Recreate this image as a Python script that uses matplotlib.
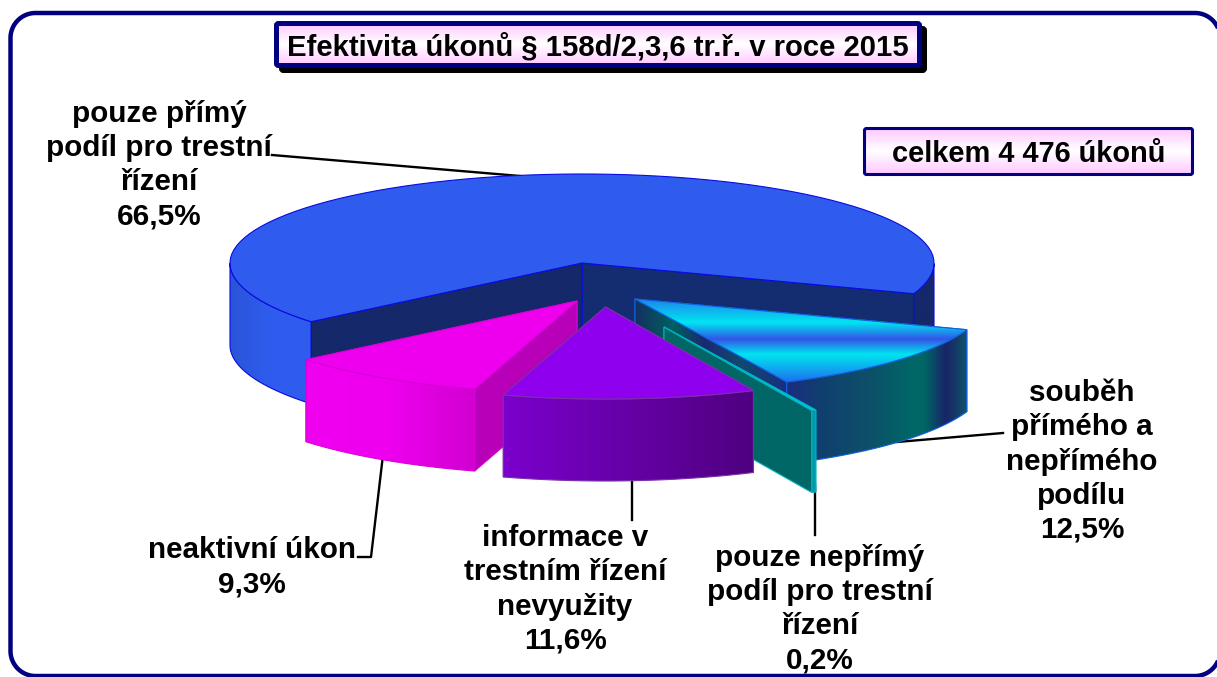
import numpy as np
import matplotlib
matplotlib.use('Agg')
import matplotlib.pyplot as plt
from matplotlib.colors import LinearSegmentedColormap
from matplotlib.patches import FancyBboxPatch, Polygon

plt.rcParams['font.family'] = ['Liberation Sans', 'DejaVu Sans']

# Chart values, in drawing order of the pie (counter-clockwise from the right cut)
slice_names = ['pouze přímý\npodíl pro trestní\nřízení',
               'neaktivní úkon',
               'informace v\ntrestním řízení\nnevyužity',
               'pouze nepřímý\npodíl pro trestní\nřízení',
               'souběh\npřímého a\nnepřímého\npodílu']
slice_shares = [66.5, 9.3, 11.6, 0.2, 12.5]
share_labels = ['66,5%', '9,3%', '11,6%', '0,2%', '12,5%']
title_text = 'Efektivita úkonů § 158d/2,3,6 tr.ř. v roce 2015'
total_text = 'celkem 4 476 úkonů'

# Pie geometry in picture pixels, the front half is a bit taller (perspective)
CX, CY = 582, 263
RX, RY_BACK, RY_FRONT = 352, 89, 92
DEPTH = 82
START = -19.5
explode = [(0, 0), (-5, 38), (23.6, 44), (82, 64), (53, 36)]

NAVY = '#000080'

fig = plt.figure(figsize=(12.17, 6.77), dpi=100)
ax = fig.add_axes([0, 0, 1, 1])
ax.set_xlim(0, 1217)
ax.set_ylim(677, 0)
ax.axis('off')
ax.set_autoscale_on(False)


def gradient(pts, colors, vertical=False, z=1, edge=None):
    # fill a polygon with a gradient, clipped through an image
    pts = np.asarray(pts)
    x0, x1 = pts[:, 0].min(), pts[:, 0].max()
    y0, y1 = pts[:, 1].min(), pts[:, 1].max()
    cmap = LinearSegmentedColormap.from_list('g', colors)
    ramp = np.linspace(0, 1, 256)
    arr = ramp[:, None] if vertical else ramp[None, :]
    im = ax.imshow(arr, cmap=cmap, extent=(x0, x1, y1, y0), aspect='auto',
                   origin='upper', interpolation='bilinear', zorder=z, vmin=0, vmax=1)
    clip = Polygon(pts, closed=True, transform=ax.transData, fill=False, edgecolor='none')
    ax.add_patch(clip)
    im.set_clip_path(clip)
    if edge:
        ax.add_patch(Polygon(pts, closed=True, fill=False, edgecolor=edge, lw=0.8, zorder=z))


def arc(t1, t2, ox, oy):
    t = np.radians(np.linspace(t1, t2, 90))
    s = np.sin(t)
    return np.column_stack((CX + ox + RX * np.cos(t),
                            CY + oy - np.where(s >= 0, RY_BACK, RY_FRONT) * s))


def drop(pts):
    return np.asarray(pts) + [0, DEPTH]


def draw_slice(t1, t2, off, top, rim, face1, face2, top_vertical=False, edge=None, z=1):
    ox, oy = off
    apex = np.array([[CX + ox, CY + oy]])
    a = arc(t1, t2, ox, oy)
    # radial faces, the one turned away from the viewer goes first
    faces = [(a[:1], face1), (a[-1:], face2)]
    if np.cos(np.radians((t1 + t2) / 2)) > 0:
        faces = faces[::-1]
    for p, col in faces:
        quad = np.vstack((apex, p, drop(p), drop(apex)))
        gradient(quad, col, z=z, edge=edge)
    # outer rim, only the part facing the viewer
    t = np.linspace(t1, t2, 400)
    front = t[np.sin(np.radians(t)) <= 0]
    for part, col in rim(front):
        r = arc(part[0], part[-1], ox, oy)
        gradient(np.vstack((r, drop(r)[::-1])), col, z=z, edge=edge)
    gradient(np.vstack((apex, a)), top, vertical=top_vertical, z=z, edge=edge)


def split_rim(colors_right, colors_left):
    def f(front):
        right = front[np.cos(np.radians(front)) > 0]
        left = front[np.cos(np.radians(front)) <= 0]
        return [(right, colors_right), (left, colors_left)]
    return f


def whole_rim(colors):
    return lambda front: [(front, colors)]


sweeps = np.array(slice_shares) / sum(slice_shares) * 360
edges = START + np.concatenate(([0], np.cumsum(sweeps)))

teal_mix = [(0, '#1a2e80'), (0.2, '#10406e'), (0.45, '#0d4f6a'), (0.68, '#006666'), (0.76, '#006666'),
            (0.88, '#1a2468'), (1, '#0f5568')]
cyan_bands = [(0, '#2080ee'), (0.29, '#00e5f0'), (0.49, '#3355e8'), (0.67, '#00e5f0'), (1, '#1f70ee')]

styles = [
    dict(top=['#2f5cee', '#2f5cee'], rim=split_rim(['#14286a', '#14286a'], ['#2a55d8', '#2f5cee', '#2f5cee']),
         face1=['#142c70', '#142c70'], face2=['#14286a', '#14286a'], edge='#0a0ae0'),
    dict(top=['#ee00ee', '#ee00ee'], rim=whole_rim(['#f000f0', '#ee00ee', '#d000d0']),
         face1=['#b800b8', '#b800b8'], face2=['#b800b8', '#b800b8'], edge='#d800d8'),
    dict(top=['#8e00ee', '#8e00ee'], rim=whole_rim(['#7b00cc', '#4f0080']),
         face1=['#8e00ee', '#8e00ee'], face2=['#8e00ee', '#8e00ee'], edge='#7a30a8'),
    dict(top=['#00ccdd', '#00ccdd'], rim=whole_rim(['#0099aa', '#0099aa']),
         face1=['#006666', '#006666'], face2=['#006666', '#006666'], edge='#00b0c0'),
    dict(top=cyan_bands, top_vertical=True, rim=whole_rim(teal_mix),
         face1=[(0, '#153060'), (0.25, '#006060'), (0.45, '#1a2a70'), (0.7, '#104a70'), (1, '#1a2e80')],
         face2=['#153060', '#153060'], edge='#1060e0'),
]

# painter's order: back to front
for order, i in enumerate([0, 4, 3, 1, 2]):
    draw_slice(edges[i], edges[i + 1], explode[i], z=2 + order, **styles[i])

# leader lines
LEADER = dict(color='black', lw=1.7, zorder=1.5)
ax.plot([272, 520], [155, 176], **LEADER)
ax.plot([897, 1003], [442, 433], **LEADER)
ax.plot([815, 815], [485, 535], **LEADER)
ax.plot([632, 632], [475, 520], **LEADER)
ax.plot([383, 371, 358], [455, 557, 557], **LEADER)

# labels
FS = 21.3
label_pos = [(159, 165), (252, 567), (565, 589.5), (820, 609), (1082, 461.5)]
for name, share, (lx, ly) in zip(slice_names, share_labels, label_pos):
    ax.text(lx, ly, name + '\n' + share, ha='center', va='center', multialignment='center',
            fontsize=FS, fontweight='bold', linespacing=1.275, zorder=20, color='black')


def banner(x0, y0, x1, y1, text, lw, fs, shadow=0):
    if shadow:
        ax.add_patch(FancyBboxPatch((x0 + shadow, y0 + shadow), x1 - x0, y1 - y0,
                                    boxstyle='round,pad=0,rounding_size=2', fc='black',
                                    ec='black', lw=lw, zorder=10))
    box = [(x0, y0), (x1, y0), (x1, y1), (x0, y1)]
    gradient(box, ['#ffc8ff', '#ffffff', '#ffc8ff'], vertical=True, z=11)
    ax.add_patch(FancyBboxPatch((x0, y0), x1 - x0, y1 - y0,
                                boxstyle='round,pad=0,rounding_size=2', fc='none',
                                ec=NAVY, lw=lw, zorder=12))
    ax.text((x0 + x1) / 2, (y0 + y1) / 2, text, ha='center', va='center_baseline',
            fontsize=fs, fontweight='bold', zorder=13)


banner(276.5, 23.5, 919.5, 65.5, title_text, 3.6, 21.1, shadow=5)
banner(864.5, 128.5, 1192.5, 174.5, total_text, 2.2, 20.9)

# outer frame runs off the right and bottom of the picture
FL, FT, FR, FB, FRAD = 10.5, 13, 1220, 676, 25
corner = np.radians(np.linspace(0, 90, 30))
cx_, cy_ = FRAD * np.cos(corner), FRAD * np.sin(corner)
frame_x = np.concatenate((FR - FRAD + cx_, FL + FRAD - cy_, FL + FRAD - cx_, FR - FRAD + cy_))
frame_y = np.concatenate((FB - FRAD + cy_, FB - FRAD + cx_, FT + FRAD - cy_, FT + FRAD - cx_))
ax.add_patch(Polygon(np.column_stack((frame_x, frame_y)), closed=True, fill=False,
                     edgecolor=NAVY, lw=3.2, zorder=0.5, clip_on=False))

fig.savefig('out.png', dpi=100)
